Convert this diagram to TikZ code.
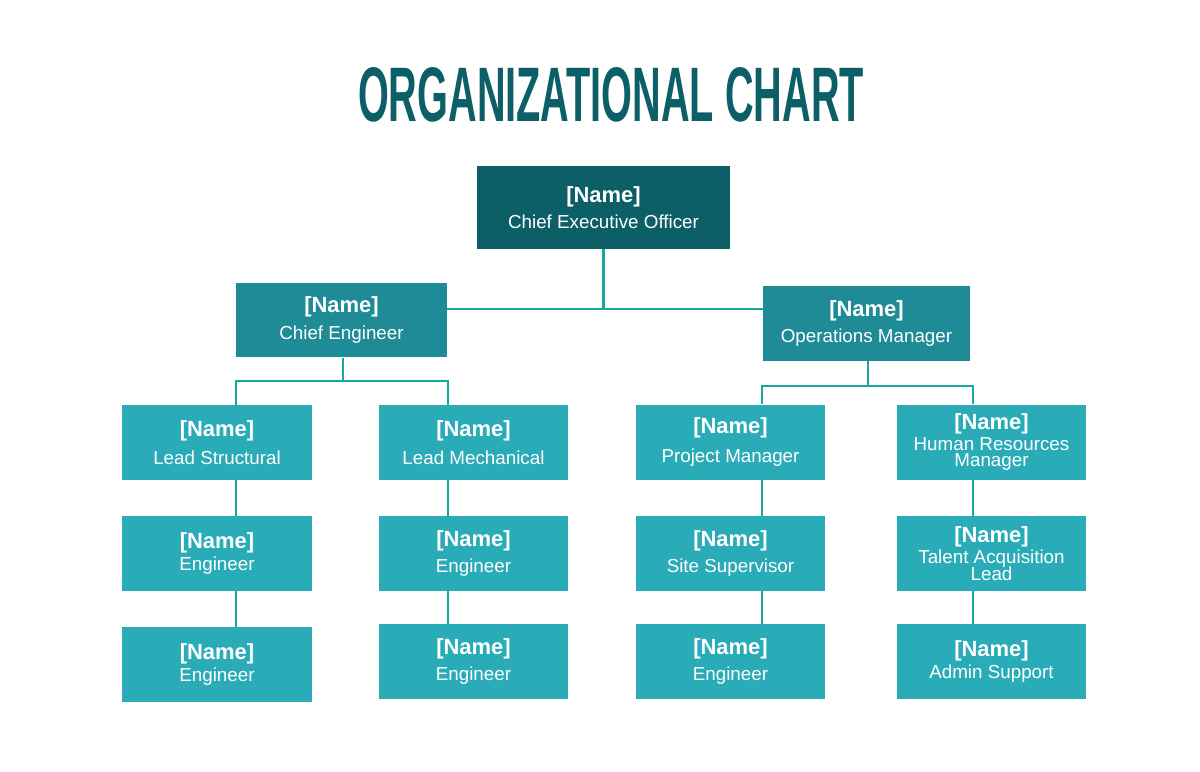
\documentclass[tikz,border=0pt]{standalone}
\usepackage{fontspec}
\setmainfont{Liberation Sans}
\usepackage{tikz}
\definecolor{ceoteal}{HTML}{0C5F67}
\definecolor{midteal}{HTML}{1E8B96}
\definecolor{lowteal}{HTML}{2AABB8}
\definecolor{linkteal}{HTML}{14A89F}
\newcommand{\nm}{{\bfseries\fontsize{12.5}{15}\selectfont [Name]}}
\begin{document}
\begin{tikzpicture}[x=0.02cm,y=-0.02cm,
    box/.style={fill=lowteal, text=white, minimum width=3.8cm, minimum height=1.5cm,
      align=center, inner sep=0pt, font=\fontsize{10.7}{15}\selectfont},
    midbox/.style={box, fill=midteal},
    topbox/.style={box, fill=ceoteal, minimum width=5.06cm, minimum height=1.66cm},
    trunk/.style={draw=linkteal, line width=1.7pt},
    branch/.style={draw=linkteal, line width=1.1pt}]
    \useasboundingbox (0,0) rectangle (1200,771);

    \node[text=ceoteal] (title) at (611,95)
      {\resizebox{10.12cm}{1.08cm}{\bfseries ORGANIZATIONAL CHART}};

    \node[topbox] (ceo) at (603.5,207.5) {\nm\\Chief Executive Officer};
    \node[midbox, minimum width=4.22cm] (ce) at (341.5,320) {\nm\\Chief Engineer};
    \node[midbox, minimum width=4.14cm] (ops) at (866.5,323.5) {\nm\\Operations Manager};

    \node[box] (ls) at (217,442.5) {\nm\\[1pt]Lead Structural};
    \node[box] (lm) at (473.5,442.5) {\nm\\[1pt]Lead Mechanical};
    \node[box] (pm) at (730.5,442) {\nm\\[2pt]Project Manager};
    \node[box] (hr) at (991.5,442) {\nm\\[-3pt]Human Resources\\[-5.5pt]Manager};

    \node[box] (eng1) at (217,553.5) {\nm\\[-3pt]Engineer};
    \node[box] (eng2) at (473.5,553.5) {\nm\\Engineer};
    \node[box] (ss) at (730.5,553.5) {\nm\\Site Supervisor};
    \node[box] (tal) at (991.5,553.5) {\nm\\[-3pt]Talent Acquisition\\[-5.5pt]Lead};

    \node[box] (eng3) at (217,664.5) {\nm\\[-3pt]Engineer};
    \node[box] (eng4) at (473.5,661.5) {\nm\\Engineer};
    \node[box] (eng5) at (730.5,661.5) {\nm\\Engineer};
    \node[box] (adm) at (991.5,661.5) {\nm\\[-3pt]Admin Support};

    \coordinate (hub) at (603.5,309);
    \coordinate (cebus) at (343,381);
    \coordinate (opsbus) at (868,386);
    \coordinate (k1) at (236,381);
    \coordinate (k2) at (448,381);
    \coordinate (k3) at (762,386);
    \coordinate (k4) at (973,386);

    \draw[trunk] (ceo.south -| hub) -- (hub);
    \draw[trunk] (ce.east |- hub) -- (ops.west |- hub);

    \draw[branch] (ce.south -| cebus) -- (cebus);
    \draw[branch] (ls.north -| k1) -- (k1) -- (k2) -- (lm.north -| k2);
    \draw[branch] (ops.south -| opsbus) -- (opsbus);
    \draw[branch] (pm.north -| k3) -- (k3) -- (k4) -- (hr.north -| k4);

    \draw[branch] (ls.south -| k1) -- (eng1.north -| k1);
    \draw[branch] (eng1.south -| k1) -- (eng3.north -| k1);
    \draw[branch] (lm.south -| k2) -- (eng2.north -| k2);
    \draw[branch] (eng2.south -| k2) -- (eng4.north -| k2);
    \draw[branch] (pm.south -| k3) -- (ss.north -| k3);
    \draw[branch] (ss.south -| k3) -- (eng5.north -| k3);
    \draw[branch] (hr.south -| k4) -- (tal.north -| k4);
    \draw[branch] (tal.south -| k4) -- (adm.north -| k4);
\end{tikzpicture}
\end{document}
